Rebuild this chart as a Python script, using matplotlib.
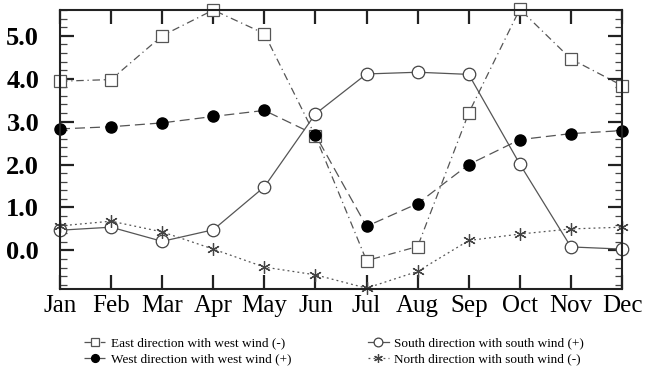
import matplotlib
matplotlib.use("Agg")
import matplotlib.pyplot as plt
from matplotlib.ticker import MultipleLocator

months = ["Jan", "Feb", "Mar", "Apr", "May", "Jun", "Jul", "Aug", "Sep", "Oct", "Nov", "Dec"]
east_west = [3.94, 3.98, 5.0, 5.6, 5.05, 2.66, -0.24, 0.09, 3.2, 5.62, 4.46, 3.84]
west_west = [2.83, 2.88, 2.97, 3.12, 3.26, 2.69, 0.56, 1.09, 2.0, 2.58, 2.72, 2.79]
south_south = [0.47, 0.54, 0.21, 0.48, 1.48, 3.18, 4.11, 4.15, 4.1, 2.01, 0.08, 0.03]
north_south = [0.57, 0.68, 0.43, 0.03, -0.39, -0.57, -0.88, -0.49, 0.23, 0.38, 0.5, 0.54]
labels = ["East direction with west wind (-)", "West direction with west wind (+)",
          "South direction with south wind (+)", "North direction with south wind (-)"]
yticks = [0.0, 1.0, 2.0, 3.0, 4.0, 5.0]

plt.rcParams['font.family'] = ['Liberation Serif', 'DejaVu Serif']

fig = plt.figure(figsize=(6.45, 3.74), dpi=100)
ax = fig.add_axes([60/645, 1-289/374, (622-60)/645, (289-10)/374])
x = list(range(len(months)))
lc = '#555555'

h1, = ax.plot(x, east_west, linestyle=(0, (6, 3, 1, 3)), color=lc, lw=0.9,
              marker='s', ms=8.5, mfc='white', mec='#555555', mew=0.9, clip_on=False, label=labels[0])
h2, = ax.plot(x, west_west, linestyle=(0, (8, 4)), color=lc, lw=0.9,
              marker='o', ms=8, mfc='black', mec='black', clip_on=False, label=labels[1])
h3, = ax.plot(x, south_south, linestyle='-', color=lc, lw=0.9,
              marker='o', ms=9, mfc='white', mec='#444444', mew=0.9, clip_on=False, label=labels[2])
h4, = ax.plot(x, north_south, linestyle=(0, (1.5, 2.5)), color=lc, lw=0.9,
              marker=(6, 2, 0), ms=9, mec='#444444', mew=0.9, clip_on=False, label=labels[3])

ax.set_xlim(0, 11)
ax.set_ylim(-0.9, 5.6)
ax.set_xticks(x)
ax.set_xticklabels(months, fontsize=18)
ax.set_yticks(yticks)
ax.set_yticklabels([f"{v:.1f}" for v in yticks], fontsize=19, fontweight='bold')
ax.yaxis.set_minor_locator(MultipleLocator(0.2))
ax.tick_params(axis='both', which='major', direction='in', top=True, right=True,
               length=10, width=1.6, color='#222222')
ax.tick_params(axis='y', which='minor', direction='in', right=True, length=5, width=0.9, color='#444444')
ax.tick_params(axis='x', which='major', pad=4)
ax.tick_params(axis='y', which='major', pad=15)
for s in ax.spines.values():
    s.set_linewidth(1.5)
    s.set_color('#222222')

fig.legend(handles=[h1, h2, h3, h4], ncol=2, loc='center', bbox_to_anchor=(0.518, 0.06),
           frameon=False, fontsize=9.5, handlelength=1.6, handletextpad=0.4,
           columnspacing=5.8, labelspacing=0.3, markerscale=0.7)

fig.savefig("out.png", dpi=100)
